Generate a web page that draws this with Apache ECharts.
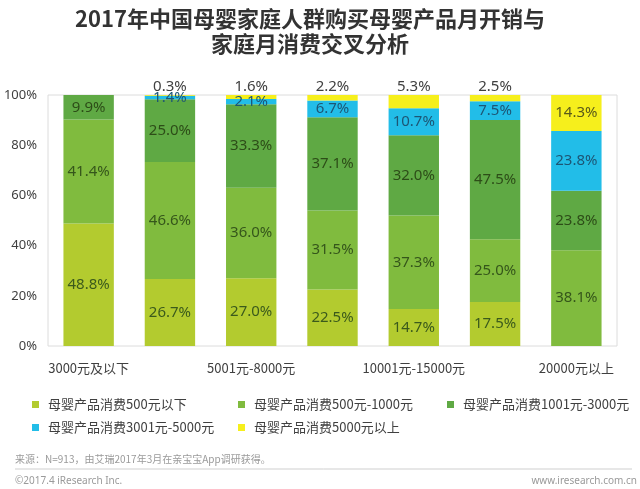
<!DOCTYPE html>
<html><head><meta charset="utf-8">
<script src="https://cdn.jsdelivr.net/npm/echarts@6.0.0/dist/echarts.min.js"></script>
<style>html,body{margin:0;padding:0;background:#fff}#c{width:640px;height:489px}</style>
</head><body><div id="c"></div>
<script>
const categories = ['3000元及以下','3001元-5000元','5001元-8000元','8001元-10000元','10001元-15000元','15001元-20000元','20000元以上'];
const seriesNames = ['母婴产品消费500元以下','母婴产品消费500元-1000元','母婴产品消费1001元-3000元','母婴产品消费3001元-5000元','母婴产品消费5000元以上'];
const below500 = [48.8, 26.7, 27.0, 22.5, 14.7, 17.5, 0];
const from500to1000 = [41.4, 46.6, 36.0, 31.5, 37.3, 25.0, 38.1];
const from1001to3000 = [9.9, 25.0, 33.3, 37.1, 32.0, 47.5, 23.8];
const from3001to5000 = [0, 1.4, 2.1, 6.7, 10.7, 7.5, 23.8];
const above5000 = [0, 0.3, 1.6, 2.2, 5.3, 2.5, 14.3];
const yTickLabels = ['0%','20%','40%','60%','80%','100%'];
const titleLines = ['2017年中国母婴家庭人群购买母婴产品月开销与', '家庭月消费交叉分析'];

const colors = ['#b3cb2f','#80bb3e','#5fa944','#22bde8','#f6ef1c'];
const labelColors = ['#3b5a1c','#35561b','#2d4d18','#1d5675','#5a5a1a'];
const allData = [below500, from500to1000, from1001to3000, from3001to5000, above5000];

const series = allData.map((arr, si) => ({
  name: seriesNames[si],
  type: 'bar',
  stack: 'total',
  barWidth: '62%',
  itemStyle: { color: colors[si] },
  data: arr.map(v => {
    const item = { value: v };
    if (v === 0) item.label = { show: false };
    else if (si === 4 && v < 10) item.label = { show: true, position: 'top', distance: 1, color: '#404040' };
    return item;
  }),
  label: {
    show: true,
    position: 'inside',
    fontSize: 15,
    fontFamily: 'Noto Sans, Noto Sans CJK SC, sans-serif',
    color: labelColors[si],
    formatter: p => p.value.toFixed(1) + '%'
  }
}));

const legendPos = [[27,393],[233,393],[442,393],[27,416],[233,416]];
const legends = seriesNames.map((n, i) => ({
  data: [n],
  left: legendPos[i][0],
  top: legendPos[i][1],
  itemWidth: 7, itemHeight: 7,
  icon: 'rect',
  textStyle: { fontSize: 13, color: '#404040', fontFamily: 'Noto Sans CJK SC, sans-serif', padding: [0,0,0,4] }
}));

const chart = echarts.init(document.getElementById('c'), null, { renderer: 'canvas' });
chart.setOption({
  animation: false,
  backgroundColor: '#fff',
  legend: legends,
  grid: { left: 48, right: 23, top: 95, bottom: 143, containLabel: false, outerBoundsMode: 'none', show: true, borderColor: '#dcdcdc', borderWidth: 1 },
  xAxis: {
    type: 'category',
    data: categories,
    axisLine: { show: false },
    axisTick: { show: false },
    axisLabel: { interval: 1, fontSize: 13, color: '#404040', margin: 16, fontFamily: 'Noto Sans CJK SC, sans-serif' }
  },
  yAxis: {
    type: 'value',
    min: 0, max: 100, interval: 20,
    axisLine: { show: false },
    axisTick: { show: false },
    splitLine: { show: false },
    axisLabel: { fontSize: 13, color: '#404040', margin: 11, formatter: v => yTickLabels[v / 20], fontFamily: 'Noto Sans, sans-serif' }
  },
  series: series,
  graphic: [
    { type: 'text', x: 310, y: 19, style: { text: titleLines[0], fontSize: 22, fontWeight: 'bold', fill: '#333', align: 'center', verticalAlign: 'middle', fontFamily: 'Noto Sans CJK SC, sans-serif' } },
    { type: 'text', x: 310, y: 44, style: { text: titleLines[1], fontSize: 22, fontWeight: 'bold', fill: '#333', align: 'center', verticalAlign: 'middle', fontFamily: 'Noto Sans CJK SC, sans-serif' } },
    { type: 'text', left: 15, top: 454, style: { text: '来源：N=913，由艾瑞2017年3月在亲宝宝App调研获得。', fontSize: 10, fill: '#9a9a9a', fontFamily: 'Noto Sans CJK SC, sans-serif' } },
    { type: 'line', shape: { x1: 15, y1: 469, x2: 632, y2: 469 }, style: { stroke: '#cfcfcf', lineWidth: 1 } },
    { type: 'text', left: 15, top: 476, style: { text: '©2017.4 iResearch Inc.', fontSize: 10, fill: '#9a9a9a', fontFamily: 'Noto Sans, sans-serif' } },
    { type: 'text', right: 3, top: 476, style: { text: 'www.iresearch.com.cn', fontSize: 10, fill: '#9a9a9a', fontFamily: 'Noto Sans, sans-serif' } }
  ]
});
</script></body></html>
